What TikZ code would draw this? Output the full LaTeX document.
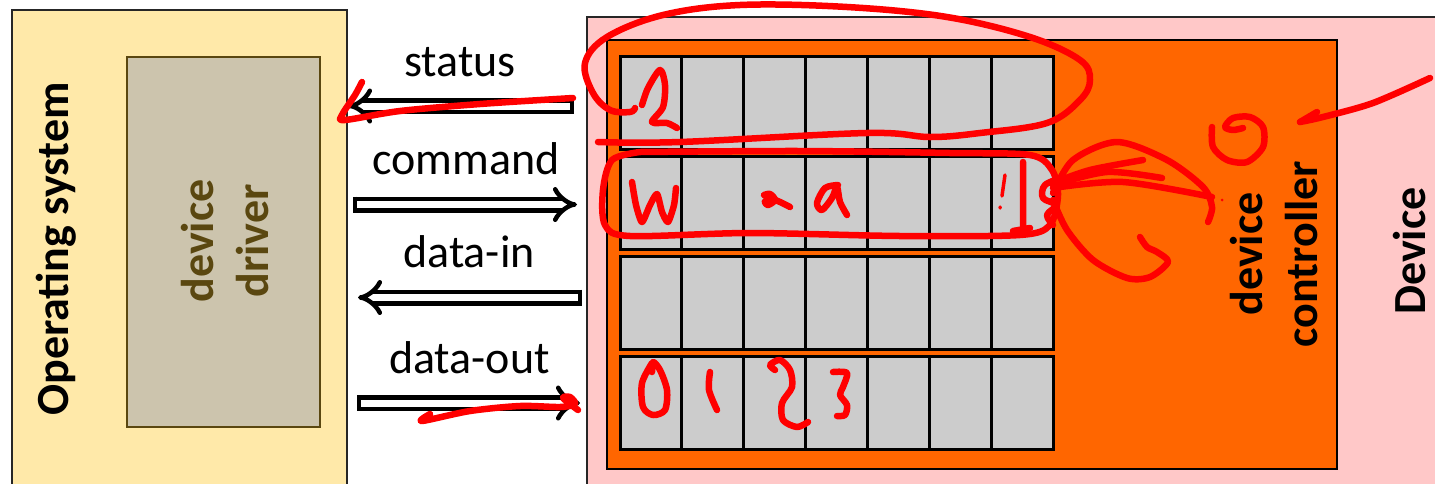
\documentclass[tikz,border=0pt]{standalone}
\usepackage{fontspec}
\setmainfont{Carlito}
\usepackage{tikz}
\usetikzlibrary{arrows.meta}

\definecolor{osyellow}{HTML}{FFE9A9}
\definecolor{drvtan}{HTML}{CCC4AD}
\definecolor{drvbrown}{HTML}{5A4710}
\definecolor{devpink}{HTML}{FFC8C8}
\definecolor{ctlorange}{HTML}{FF6600}

\begin{document}
\begin{tikzpicture}[x=1pt,y=-1pt,
		box/.style={draw,rectangle,inner sep=0pt,line width=2pt},
		cell/.style={draw,rectangle,inner sep=0pt,line width=3pt,fill=gray!40,
			minimum width=61.86pt,minimum height=93pt},
		vlabel/.style={rotate=90,align=center,inner sep=0pt,font=\fontsize{46}{55}\selectfont\bfseries},
		bus/.style={double=white,double distance=7pt,line width=4.5pt,-{Implies}},
		buslabel/.style={midway,anchor=base,yshift=30pt,font=\fontsize{46}{55}\selectfont},
		ink/.style={draw=red,line width=6.5pt,line cap=round,line join=round}]
	\useasboundingbox (0,0) rectangle (1435,483);
	\clip (0,0) rectangle (1435,483);

	% host side
	\node[box,draw=black!85,fill=osyellow,minimum width=335pt,minimum height=485pt] (os) at (179.5,252.5) {};
	\node[box,line width=2.5pt,draw=drvbrown,fill=drvtan,minimum width=193pt,minimum height=370pt] (driver) at (223.5,242) {};
	\node[vlabel] (oslabel) at (56,249) {Operating system};
	\node[vlabel,text=drvbrown] (drvlabel) at (225,241) {device\\driver};

	% device side
	\node[box,draw=black!85,fill=devpink,minimum width=858pt,minimum height=478pt] (device) at (1016,256) {};
	\node[box,line width=2.5pt,fill=ctlorange,minimum width=730pt,minimum height=429pt] (ctl) at (972,254.5) {};
	\node[vlabel] (ctllabel) at (1274,254) {device\\controller};
	\node[vlabel,anchor=base] (devlabel) at (1425,251) {Device};

	% the four registers
	\foreach \reg [count=\r from 0] in {status,control,datain,dataout} {
		\foreach \c in {1,...,7} {
			\node[cell] (\reg-\c) at ({620+(\c-0.5)*61.86},{102.5+\r*100.3}) {};
		}
	}

	% buses between driver and controller
	\coordinate (status-a) at (572,106);   \coordinate (status-b) at (348,106);
	\coordinate (command-a) at (355,204.5); \coordinate (command-b) at (577,204.5);
	\coordinate (datain-a) at (580,297.5);  \coordinate (datain-b) at (358,297.5);
	\coordinate (dataout-a) at (359,403);   \coordinate (dataout-b) at (580,403);
	\foreach \a/\b/\t in {status-a/status-b/status,command-a/command-b/command,
		datain-a/datain-b/data-in,dataout-a/dataout-b/data-out} {
		\draw[bus] (\a) -- (\b) node[buslabel] {\t};
		\draw[line width=4.5pt] ([yshift=8pt]\a) -- ([yshift=-8pt]\a);
	}

	% pen notes
	\draw[ink] plot[smooth,tension=0.6] coordinates {(598,142) (680,142) (867,133) (930,137) (980,133)
		(1047,123) (1080,100) (1090,80) (1080,60) (1030,37) (947,17) (847,7) (740,5) (663,15) (607,37)
		(585,63) (593,93) (610,110) (630,112) (635,108)};
	\draw[ink] plot[smooth,tension=0.5] coordinates {(642,105) (648,88) (660,70) (665,85) (663,107)
		(652,122) (667,123) (677,128)};
	\draw[ink] plot[smooth,tension=0.5] coordinates {(640,152) (800,151) (950,153) (1030,155) (1052,170)
		(1058,195) (1050,225) (1020,235) (900,236) (750,233) (630,236) (605,225) (603,190) (612,160) (640,152)};
	\draw[ink] (1023,162) -- (1023,228) (1013,231) -- (1030,228);
	\draw[ink,line width=3.5pt] (1005,175) -- (1002,196) (1000,207) -- (1000,208);
	\draw[ink] plot[smooth,tension=0.4] coordinates {(632,182) (636,205) (642,222) (650,205) (657,194)
		(662,212) (668,222) (674,205) (676,188)};
	\draw[ink] plot[smooth,tension=0.5] coordinates {(764,195) (770,194) (775,200) (768,205) (765,201)
		(775,200) (790,207)};
	\draw[ink] plot[smooth,tension=0.5] coordinates {(838,185) (825,188) (817,203) (822,210) (832,198)
		(837,187) (840,202) (847,215)};
	\draw[ink] plot[smooth,tension=0.5] coordinates {(652,363) (642,383) (643,407) (653,415) (665,410)
		(667,390) (660,370) (653,362) (652,372)};
	\draw[ink] plot[smooth,tension=0.5] coordinates {(710,372) (709,390) (717,410)};
	\draw[ink] plot[smooth,tension=0.5] coordinates {(775,370) (770,365) (780,360) (790,370) (792,387)
		(782,403) (783,420) (797,427) (808,422)};
	\draw[ink] plot[smooth,tension=0.5] coordinates {(833,372) (847,373) (843,387) (840,395) (847,405)
		(845,415) (837,416)};
	\draw[ink] plot[smooth,tension=0.5] coordinates {(1053,193) (1073,160) (1117,142) (1167,160)
		(1203,187) (1212,207) (1208,222)};
	\draw[ink] plot[smooth,tension=0.5] coordinates {(1053,183) (1090,170) (1143,160)};
	\draw[ink] plot[smooth,tension=0.5] coordinates {(1053,185) (1107,172) (1162,178)};
	\draw[ink] plot[smooth,tension=0.5] coordinates {(1053,188) (1123,182) (1212,197)};
	\draw[ink] plot[smooth,tension=0.5] coordinates {(1053,200) (1067,230) (1093,260) (1127,278)
		(1150,277) (1168,262) (1157,252) (1147,247) (1140,237)};
	\draw[ink] plot[smooth,tension=0.6] coordinates {(1062,178) (1045,185) (1043,198) (1056,205)
		(1047,215) (1053,225)};
	\fill[red] (1222,200) circle (1.5);
	\draw[ink] plot[smooth,tension=0.5] coordinates {(1212,127) (1213,147) (1227,160) (1247,162)
		(1263,147) (1263,127) (1250,117) (1233,118) (1225,127) (1233,130) (1243,128)};
	\draw[ink] plot[smooth,tension=0.5] coordinates {(1430,78) (1373,103) (1323,117) (1300,122)};
	\draw[ink] (1300,122) -- (1317,112);
	\draw[ink] plot[smooth,tension=0.5] coordinates {(573,98) (480,104) (400,111) (345,120) (342,115)
		(355,95) (362,82)};
	\draw[ink] plot[smooth,tension=0.5] coordinates {(430,414) (422,421) (470,411) (520,406) (560,407)
		(575,404) (570,397) (563,398) (578,410)};
\end{tikzpicture}
\end{document}
